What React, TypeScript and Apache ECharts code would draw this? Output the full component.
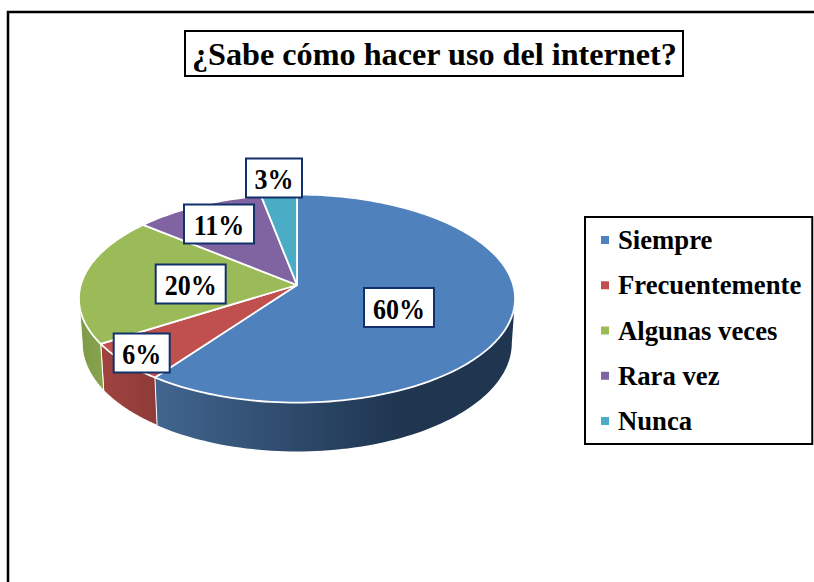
import React, { useEffect, useRef } from "react";
import * as echarts from "echarts";

const categories = ["Siempre", "Frecuentemente", "Algunas veces", "Rara vez", "Nunca"];
const values = [60, 6, 20, 11, 3];
const topColors = ["#4f81bd", "#c0504d", "#9bbb59", "#8064a2", "#4bacc6"];
const sideStops: [number, string][][] = [
  [[0, "#42668f"], [0.45, "#2a4565"], [0.68, "#1f3550"], [1, "#1f3550"]],
  [[0, "#a0433f"], [1, "#8e3b38"]],
  [[0, "#7f9a47"], [1, "#88a34c"]],
  [[0, "#66508a"], [1, "#66508a"]],
  [[0, "#3c8aa0"], [1, "#3c8aa0"]],
];
const labelCenters = [
  [399, 307.5],
  [141.7, 353],
  [190.7, 284],
  [219, 224],
  [274, 178],
];

const FONT = '"Liberation Serif", "Times New Roman", serif';
const CX = 297;
const CY = 285;
const A = 216.2;
const B = 102.3;
const K = 0.1304;
const SHRINK = 0.985;
const DEPTH = 44;
const SIDE_FROM = 97.5;
const SIDE_TO = 262.5;
const total = values.reduce((a, b) => a + b, 0);

function topPt(deg: number): number[] {
  const r = (deg * Math.PI) / 180;
  const w = 1 + K * Math.cos(r);
  return [CX + (A * Math.sin(r)) / w, CY - (B * Math.cos(r)) / w];
}
function botPt(deg: number): number[] {
  const r = (deg * Math.PI) / 180;
  const w = 1 + K * Math.cos(r);
  return [
    CX + (SHRINK * A * Math.sin(r)) / w,
    CY - (SHRINK * B * Math.cos(r)) / w + DEPTH / w,
  ];
}
function arc(from: number, to: number, fn: (d: number) => number[]): number[][] {
  const n = Math.max(2, Math.ceil(Math.abs(to - from) / 1.5));
  const pts: number[][] = [];
  for (let i = 0; i <= n; i++) pts.push(fn(from + ((to - from) * i) / n));
  return pts;
}
function angles(idx: number): [number, number] {
  let sum = 0;
  for (let i = 0; i < idx; i++) sum += values[i];
  return [(sum / total) * 360, ((sum + values[idx]) / total) * 360];
}

export default function App() {
  const ref = useRef<HTMLDivElement>(null);
  useEffect(() => {
    const chart = echarts.init(ref.current!, undefined, { renderer: "svg" });
    const sliceSeries = categories.map((name, idx) => ({
      type: "custom",
      name,
      coordinateSystem: "none",
      silent: true,
      z: 2,
      itemStyle: { color: topColors[idx] },
      data: [values[idx]],
      renderItem: () => {
        const [s, e] = angles(idx);
        const children: any[] = [];
        const sf = Math.max(s, SIDE_FROM);
        const st = Math.min(e, SIDE_TO);
        if (st > sf) {
          children.push({
            type: "polygon",
            shape: { points: [...arc(sf, st, topPt), ...arc(st, sf, botPt)] },
            style: {
              fill: {
                type: "linear",
                x: 0,
                y: 0,
                x2: 1,
                y2: 0,
                colorStops: sideStops[idx].map(([offset, color]) => ({ offset, color })),
              },
              stroke: "#ffffff",
              lineWidth: s > 0 && sf === s ? 1 : 0,
            },
          });
        }
        children.push({
          type: "polygon",
          shape: { points: [[CX, CY], ...arc(s, e, topPt)] },
          style: { fill: topColors[idx], stroke: "#ffffff", lineWidth: 1.8, lineJoin: "round" },
        });
        return { type: "group", children };
      },
    }));
    const labelSeries = {
      type: "custom",
      name: "etiquetas",
      coordinateSystem: "none",
      silent: true,
      z: 5,
      data: values,
      renderItem: (params: any) => {
        const i = params.dataIndex;
        const [x, y] = labelCenters[i];
        const w = values[i] >= 10 ? 70 : 56;
        const h = 39;
        return {
          type: "group",
          children: [
            {
              type: "rect",
              shape: { x: x - w / 2, y: y - h / 2, width: w, height: h },
              style: { fill: "#ffffff", stroke: "#12306b", lineWidth: 2 },
            },
            {
              type: "text",
              x,
              y: y + 1,
              scaleY: 1.15,
              style: {
                x: 0,
                y: 0,
                text: `${values[i]}%`,
                align: "center",
                verticalAlign: "middle",
                fill: "#000000",
                font: `bold 26px ${FONT}`,
              },
            },
          ],
        };
      },
    };
    chart.setOption({
      animation: false,
      backgroundColor: "#ffffff",
      title: {
        text: "¿Sabe cómo hacer uso del internet?",
        left: 185,
        top: 31,
        padding: [6, 6, 6, 7],
        backgroundColor: "#ffffff",
        borderColor: "#000000",
        borderWidth: 2,
        textStyle: { fontFamily: FONT, fontWeight: "bold", fontSize: 32.2, color: "#000000", lineHeight: 33 },
      },
      legend: {
        data: categories,
        orient: "vertical",
        left: 585,
        top: 217,
        padding: [8, 11, 8, 16],
        itemGap: 15.25,
        itemWidth: 8,
        itemHeight: 8,
        icon: "rect",
        selectedMode: false,
        backgroundColor: "#ffffff",
        borderColor: "#000000",
        borderWidth: 2,
        textStyle: { fontFamily: FONT, fontWeight: "bold", fontSize: 26.7, color: "#000000", lineHeight: 30, padding: [0, 0, 0, 4] },
      },
      graphic: [
        {
          type: "polyline",
          silent: true,
          z: -1,
          shape: { points: [[8, 600], [8, 12], [830, 12]] },
          style: { fill: "none", stroke: "#000000", lineWidth: 2.5 },
        },
      ],
      series: [...sliceSeries, labelSeries],
    });
    return () => chart.dispose();
  }, []);
  return <div ref={ref} style={{ width: 814, height: 582, position: "absolute", left: 0, top: 0 }} />;
}
